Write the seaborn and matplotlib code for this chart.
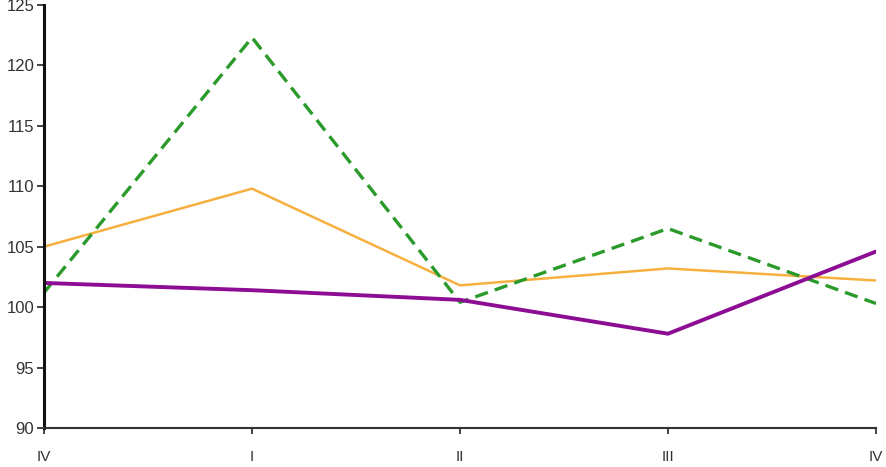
import pandas as pd
import seaborn as sns
import matplotlib.pyplot as plt

# Quarter labels and index values
quarters = ['IV', 'I', 'II', 'III', 'IV ']
green_vals = [101.2, 122.3, 100.4, 106.5, 100.3]
orange_vals = [105.0, 109.8, 101.8, 103.2, 102.2]
purple_vals = [102.0, 101.4, 100.6, 97.8, 104.6]

data = pd.DataFrame({
    'pos': list(range(len(quarters))) * 3,
    'value': green_vals + orange_vals + purple_vals,
    'series': ['green'] * 5 + ['orange'] * 5 + ['purple'] * 5,
})

sns.set_style('white')
plt.rcParams['font.family'] = ['Liberation Sans', 'DejaVu Sans']

fig = plt.figure(figsize=(8.86, 4.67), dpi=100)
ax = fig.add_axes([0.0497, 0.0835, 0.939, 0.906])

styles = {
    'green': dict(color='#2a9a2a', lw=2.4, ls=(0, (4, 2.2))),
    'orange': dict(color='#f7b040', lw=1.8, ls='-'),
    'purple': dict(color='#8c0c94', lw=2.8, ls='-'),
}
for name in ['orange', 'green', 'purple']:
    sub = data[data['series'] == name]
    st = styles[name]
    sns.lineplot(x='pos', y='value', data=sub, ax=ax, color=st['color'],
                 linewidth=st['lw'], linestyle=st['ls'], legend=False)

ax.set_xlim(0, 4)
ax.set_ylim(90, 125)
ax.set_yticks(range(90, 126, 5))
ax.set_xticks(range(len(quarters)))
ax.set_xticklabels([q.strip() for q in quarters])
ax.set_xlabel('')
ax.set_ylabel('')

for side in ['top', 'right']:
    ax.spines[side].set_visible(False)
ax.spines['left'].set_color('#111111')
ax.spines['left'].set_linewidth(2.2)
ax.spines['bottom'].set_color('#333333')
ax.spines['bottom'].set_linewidth(1.5)

ax.tick_params(axis='y', direction='out', length=5, width=1.2, color='#222222',
               labelsize=12, labelcolor='#333333', pad=2, left=True)
ax.tick_params(axis='x', direction='out', length=4, width=1.2, color='#222222',
               labelsize=11, labelcolor='#333333', pad=12, bottom=True)
for lab in ax.get_xticklabels():
    lab.set_clip_on(False)

fig.savefig('out.png', dpi=100)
